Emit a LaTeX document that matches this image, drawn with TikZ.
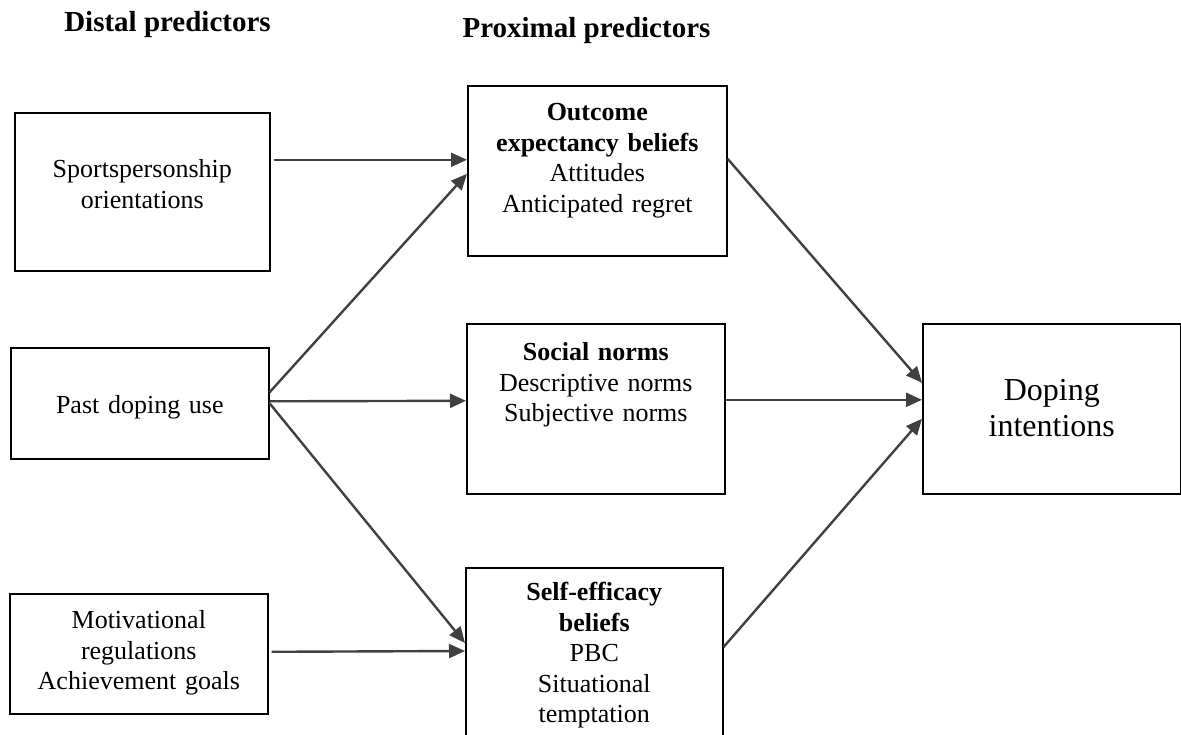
\documentclass[tikz,border=0pt]{standalone}
\usepackage{fontspec}
\setmainfont{Liberation Serif}
\usepackage{xcolor}
\usetikzlibrary{arrows.meta}
\definecolor{arrowgrey}{HTML}{404040}
\tikzstyle{heading}=[anchor=base,font=\fontsize{29}{34}\selectfont\bfseries]
\tikzstyle{block}=[rectangle,draw=black,line width=1.6pt,inner sep=0pt,text width=258pt,align=center,anchor=north west,font=\fontsize{26}{30.5}\selectfont]
\tikzstyle{arrow}=[draw=arrowgrey,line width=2.4pt,-{Triangle[length=16pt,width=14pt]}]

\begin{document}
\begin{tikzpicture}[x=1pt,y=-1pt]
            \useasboundingbox (0,0) rectangle (1181,735);
            \node (distal)[heading] at (167.5,32){Distal predictors};
            \node (proximal)[heading] at (586.5,38){Proximal predictors};
            \node (sport)[block,text width=255pt,text height=65pt,text depth=93pt] at (14,112){Sportspersonship\\orientations};
            \node (past)[block,text height=66pt,text depth=45pt] at (10,347){Past doping use};
            \node (motiv)[block,text height=35pt,text depth=85pt] at (9,593){Motivational\\regulations\\Achievement goals};
            \node (outcome)[block,text width=259pt,text height=35pt,text depth=135pt] at (467,85){\textbf{Outcome}\\\textbf{expectancy beliefs}\\Attitudes\\Anticipated regret};
            \node (social)[block,text height=37pt,text depth=133pt] at (466,323){\textbf{Social norms}\\Descriptive norms\\Subjective norms};
            \node (self)[block,text width=257pt,text height=33pt,text depth=160pt] at (465,567){\textbf{Self-efficacy}\\\textbf{beliefs}\\PBC\\Situational\\temptation};
            \node (doping)[block,text height=77pt,text depth=93pt,font=\fontsize{32}{36}\selectfont] at (922,323){Doping\\intentions};
            \draw [arrow] ([xshift=3pt,yshift=32pt]sport.east) -- ([yshift=11pt]outcome.west);
            \draw [arrow] ([yshift=11pt]past.east) -- ([yshift=-3pt]outcome.west);
            \draw [arrow] ([yshift=2pt]past.east) -- ([yshift=8pt]social.west);
            \draw [arrow] (past.east) -- ([yshift=-76pt]self.north west);
            \draw [arrow] ([xshift=3pt,yshift=2pt]motiv.east) -- ([yshift=-84pt]self.north west);
            \draw [arrow] ([yshift=12pt]outcome.east) -- ([yshift=26pt]doping.west);
            \draw [arrow] ([yshift=9pt]social.east) -- ([yshift=9pt]doping.west);
            \draw [arrow] ([yshift=-80pt]self.north east) -- ([yshift=-10pt]doping.west);
        \end{tikzpicture}
\end{document}
